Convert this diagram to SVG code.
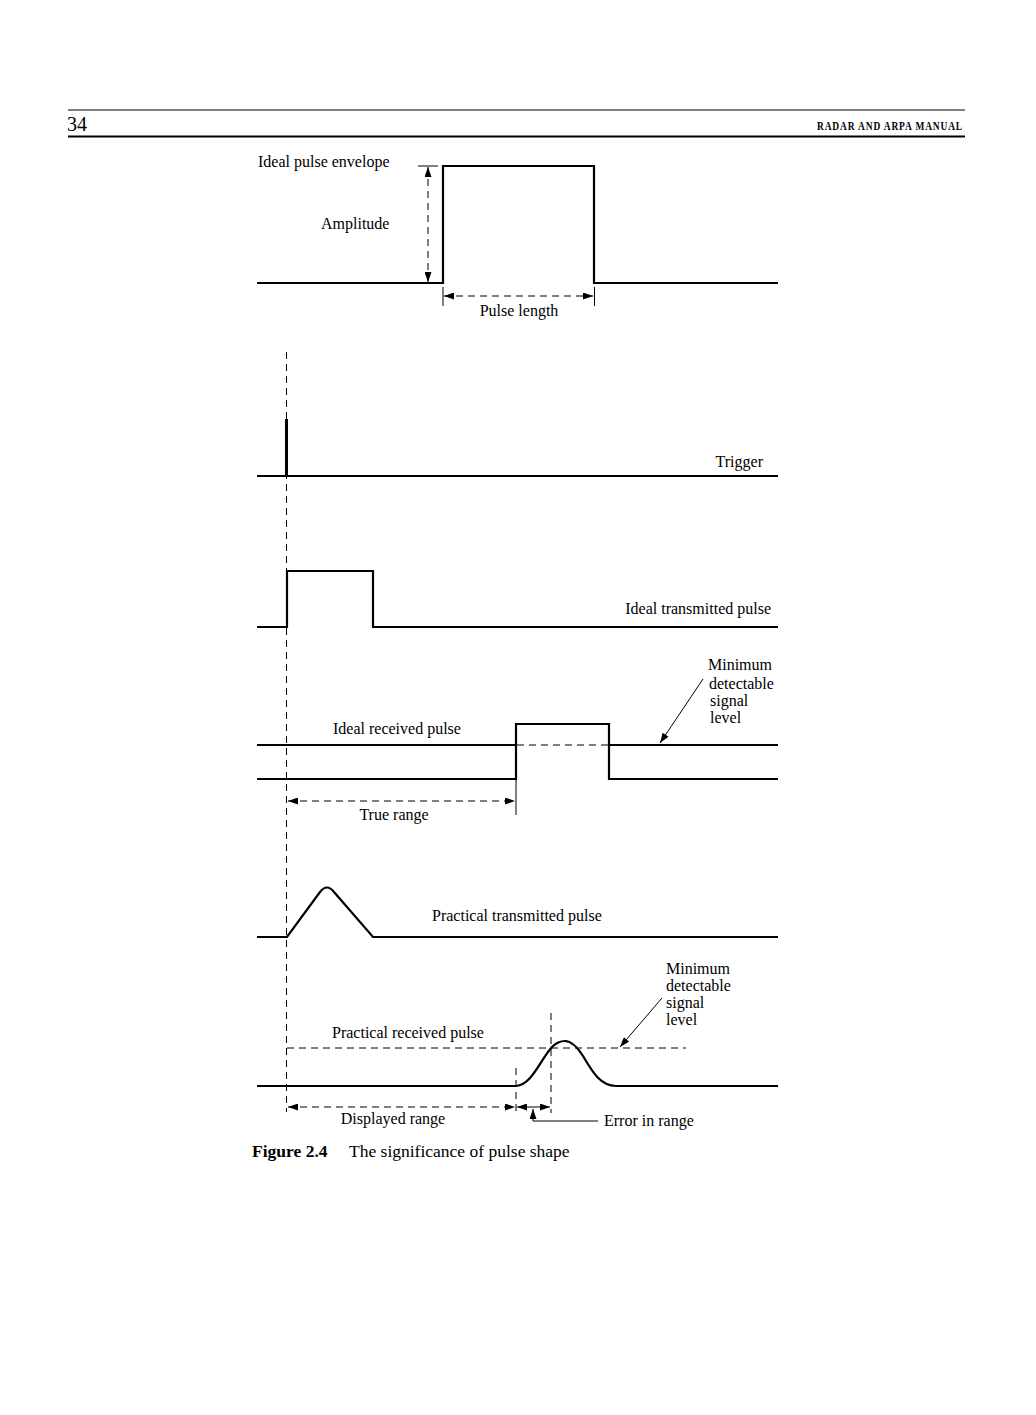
<svg xmlns="http://www.w3.org/2000/svg" width="1036" height="1415" viewBox="0 0 1036 1415">
<defs>
<marker id="ah" viewBox="0 0 10 7" refX="10" refY="3.5" markerWidth="11" markerHeight="7" markerUnits="userSpaceOnUse" orient="auto-start-reverse">
<path d="M0,0 L10,3.5 L0,7 z" fill="#000"/>
</marker>
<style>
.t{font-family:"Liberation Serif","Times New Roman",serif;font-size:16px;fill:#000}
.sig{fill:none;stroke:#000;stroke-width:2.2}
.thin{fill:none;stroke:#000;stroke-width:1}
.dash{fill:none;stroke:#000;stroke-width:1;stroke-dasharray:7,5}
</style>
</defs>
<rect width="1036" height="1415" fill="#fff"/>

<g id="header">
<line x1="68" y1="110" x2="965" y2="110" stroke="#000" stroke-width="1.2"/>
<line x1="68" y1="136.5" x2="965" y2="136.5" stroke="#000" stroke-width="2.2"/>
<text x="67" y="131" font-family="Liberation Serif, serif" font-size="20" fill="#000">34</text>
<text x="817" y="130" textLength="146" lengthAdjust="spacingAndGlyphs" letter-spacing="1.2" font-family="Liberation Serif, serif" font-size="13" font-weight="bold" fill="#000">RADAR AND ARPA MANUAL</text>
</g>

<g id="connectors">
<line class="dash" x1="286.5" y1="352" x2="286.5" y2="1112"/>
<line class="thin" x1="418" y1="166" x2="438" y2="166"/>
<line class="dash" x1="428" y1="167" x2="428" y2="282" marker-start="url(#ah)" marker-end="url(#ah)"/>
<line class="thin" x1="443" y1="287" x2="443" y2="306"/>
<line class="thin" x1="594.5" y1="287" x2="594.5" y2="306"/>
<line class="dash" x1="444" y1="296" x2="593" y2="296" marker-start="url(#ah)" marker-end="url(#ah)"/>
<line class="dash" x1="517" y1="745" x2="608" y2="745"/>
<line class="thin" x1="703" y1="679" x2="660" y2="743" marker-end="url(#ah)"/>
<line class="thin" x1="516" y1="780" x2="516" y2="815"/>
<line class="dash" x1="288" y1="801" x2="515" y2="801" marker-start="url(#ah)" marker-end="url(#ah)"/>
<line class="dash" x1="287" y1="1048" x2="686" y2="1048"/>
<line class="dash" x1="551" y1="1013" x2="551" y2="1113"/>
<line class="dash" x1="516" y1="1068" x2="516" y2="1113"/>
<line class="thin" x1="662" y1="998" x2="620" y2="1047" marker-end="url(#ah)"/>
<line class="dash" x1="288" y1="1107" x2="515" y2="1107" marker-start="url(#ah)" marker-end="url(#ah)"/>
<line class="thin" x1="517" y1="1107" x2="550" y2="1107" marker-start="url(#ah)" marker-end="url(#ah)"/>
<polyline class="thin" points="598,1121 533,1121 533,1109" marker-end="url(#ah)"/>
</g>

<g id="ideal-pulse-envelope">
<path class="sig" d="M257,283 H443 V166 H594 V283 H778"/>
<text class="t" x="258" y="167">Ideal pulse envelope</text>
<text class="t" x="321" y="229">Amplitude</text>
<text class="t" x="519" y="316" text-anchor="middle">Pulse length</text>
</g>

<g id="trigger">
<path class="sig" d="M257,476 H778"/>
<line x1="286.5" y1="419" x2="286.5" y2="476" stroke="#000" stroke-width="3"/>
<text class="t" x="763" y="467" text-anchor="end">Trigger</text>
</g>

<g id="ideal-transmitted-pulse">
<path class="sig" d="M257,627 H287 V571 H373 V627 H778"/>
<text class="t" x="771" y="614" text-anchor="end">Ideal transmitted pulse</text>
</g>

<g id="ideal-received-pulse">
<path class="sig" d="M257,745 H516"/>
<path class="sig" d="M609,745 H778"/>
<path class="sig" d="M257,779 H516 V724 H609 V779 H778"/>
<text class="t" x="333" y="734">Ideal received pulse</text>
<text class="t" x="708" y="670">Minimum</text>
<text class="t" x="709" y="689">detectable</text>
<text class="t" x="710" y="706">signal</text>
<text class="t" x="710" y="723">level</text>
<text class="t" x="394" y="820" text-anchor="middle">True range</text>
</g>

<g id="practical-transmitted-pulse">
<path class="sig" d="M257,937 H287 L320,892 Q327,883 334,892 L373,937 H778"/>
<text class="t" x="432" y="921">Practical transmitted pulse</text>
</g>

<g id="practical-received-pulse">
<path class="sig" d="M257,1086 H516 C532,1085 540,1060 552,1047 C557,1042 561,1041 565,1041 C571,1041 576,1045 583,1056 C592,1071 600,1086 616,1086 H778"/>
<text class="t" x="332" y="1038">Practical received pulse</text>
<text class="t" x="666" y="974">Minimum</text>
<text class="t" x="666" y="991">detectable</text>
<text class="t" x="666" y="1008">signal</text>
<text class="t" x="666" y="1025">level</text>
<text class="t" x="393" y="1124" text-anchor="middle">Displayed range</text>
<text class="t" x="604" y="1126">Error in range</text>
</g>

<g id="caption">
<text x="252" y="1157" font-family="Liberation Serif, serif" font-size="17.5" fill="#000"><tspan font-weight="bold">Figure 2.4</tspan><tspan x="349">The significance of pulse shape</tspan></text>
</g>
</svg>
